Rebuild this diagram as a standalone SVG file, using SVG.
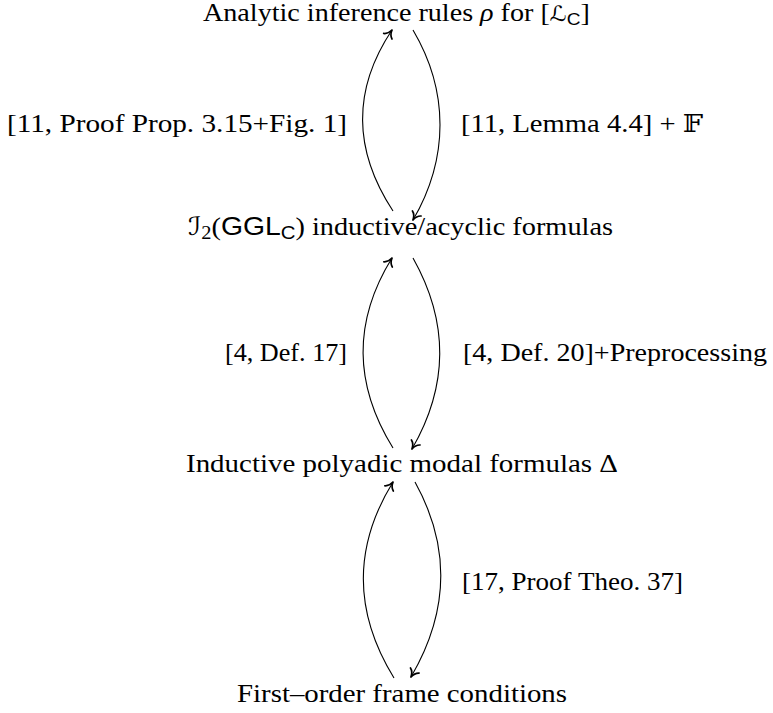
<svg xmlns="http://www.w3.org/2000/svg" width="773" height="713" viewBox="0 0 773 713">
<style>
.t{font-family:"Liberation Serif","Times New Roman",serif;font-size:25px;fill:#000}
.sf{font-family:"Liberation Sans","DejaVu Sans",sans-serif}
.m{font-family:"DejaVu Serif","DejaVu Sans",serif}
.e{fill:none;stroke:#000;stroke-width:1.1}
</style>
<defs>
<marker id="ah" markerUnits="userSpaceOnUse" markerWidth="16" markerHeight="16" viewBox="-9 -8 11 16" refX="0" refY="0" orient="auto">
<path d="M-7.5,-5 C-6,-2 -2.4,-0.5 0,0 C-2.4,0.5 -6,2 -7.5,5" fill="none" stroke="#000" stroke-width="1.7" stroke-linecap="round" stroke-linejoin="round"/>
</marker>
</defs>
<rect width="773" height="713" fill="#fff"/>
<g id="connectors">
<path class="e" marker-end="url(#ah)" d="M393,211 C353,150 352,90 392,30"/>
<path class="e" marker-end="url(#ah)" d="M413,30 C449,91 449,158 413,220"/>
<path class="e" marker-end="url(#ah)" d="M393,448 C354,385 353,321 392,258"/>
<path class="e" marker-end="url(#ah)" d="M413,258 C449,322 449,385 412,449"/>
<path class="e" marker-end="url(#ah)" d="M394,678 C354,613 353,547 393,482"/>
<path class="e" marker-end="url(#ah)" d="M415,482 C451,547 449,612 411,677"/>
</g>
<g id="edge-labels">
<text class="t" x="7" y="132" textLength="340" lengthAdjust="spacingAndGlyphs">[11, Proof Prop. 3.15+Fig. 1]</text>
<text class="t" x="461" y="132" textLength="242" lengthAdjust="spacingAndGlyphs">[11, Lemma 4.4] + <tspan class="m">𝔽</tspan></text>
<text class="t" x="225" y="361" textLength="122" lengthAdjust="spacingAndGlyphs">[4, Def. 17]</text>
<text class="t" x="463" y="361" textLength="304" lengthAdjust="spacingAndGlyphs">[4, Def. 20]+Preprocessing</text>
<text class="t" x="462" y="590" textLength="221" lengthAdjust="spacingAndGlyphs">[17, Proof Theo. 37]</text>
</g>
<g id="node-rules">
<text class="t" x="203" y="21" font-size="24" textLength="387" lengthAdjust="spacingAndGlyphs">Analytic inference rules <tspan font-style="italic">ρ</tspan> for [<tspan class="m" font-size="21">ℒ</tspan><tspan class="sf" font-size="17" dy="4">C</tspan><tspan dy="-4">]</tspan></text>
</g>
<g id="node-i2">
<text class="t" x="188" y="235" textLength="425" lengthAdjust="spacingAndGlyphs"><tspan class="m">ℐ</tspan><tspan font-size="18" dy="4">2</tspan><tspan dy="-4">(</tspan><tspan class="sf">GGL</tspan><tspan class="sf" font-size="18" dy="4">C</tspan><tspan dy="-4">) inductive/acyclic formulas</tspan></text>
</g>
<g id="node-inductive">
<text class="t" x="186" y="472" textLength="432" lengthAdjust="spacingAndGlyphs">Inductive polyadic modal formulas Δ</text>
</g>
<g id="node-foc">
<text class="t" x="237" y="702" textLength="330" lengthAdjust="spacingAndGlyphs">First–order frame conditions</text>
</g>
</svg>
